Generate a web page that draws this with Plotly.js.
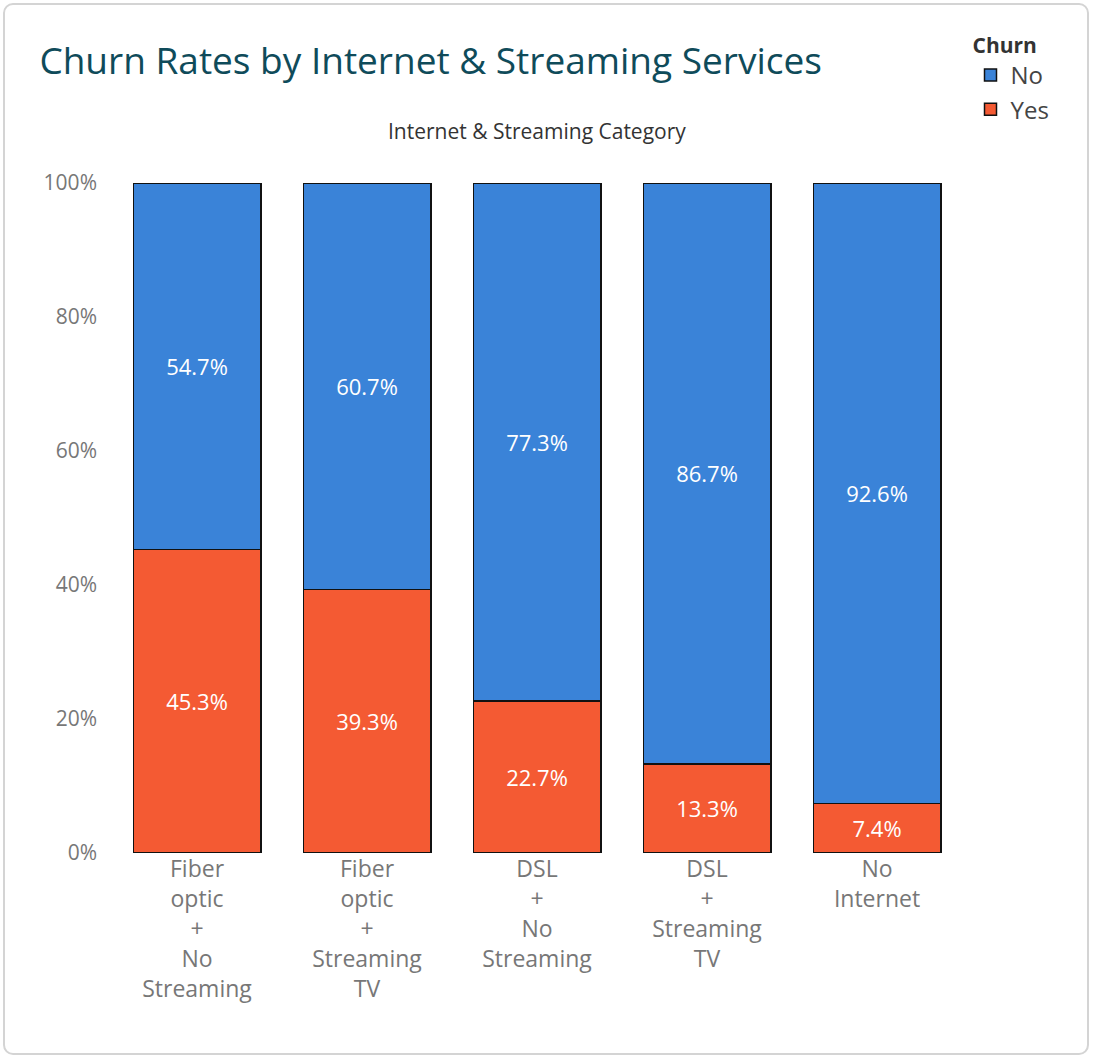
<!DOCTYPE html>
<html>
<head>
<script src="https://cdn.plot.ly/plotly-3.0.1.min.js"></script>
<style>
body{margin:0;background:#fff;}
#frame{position:absolute;left:3px;top:3px;width:1086px;height:1052px;border:2px solid #d4d4d4;border-radius:10px;box-sizing:border-box;overflow:hidden;}
#chart{position:absolute;left:-5px;top:-5px;width:1094px;height:1060px;}
</style>
</head>
<body>
<div id="frame"><div id="chart"></div></div>
<script>
var categories = ['Fiber<br>optic<br>+<br>No<br>Streaming', 'Fiber<br>optic<br>+<br>Streaming<br>TV', 'DSL<br>+<br>No<br>Streaming', 'DSL<br>+<br>Streaming<br>TV', 'No<br>Internet'];
var churnYes = [45.3, 39.3, 22.7, 13.3, 7.4];
var churnNo = [54.7, 60.7, 77.3, 86.7, 92.6];
var yTicks = [0, 20, 40, 60, 80, 100];

function lbl(v){ return v.map(function(x){ return x.toFixed(1) + '%'; }); }

var base = {
  type: 'bar', x: categories, width: 0.75,
  textposition: 'inside', insidetextanchor: 'middle',
  textfont: {color: '#fff', size: 22, family: 'Open Sans'},
  hoverinfo: 'skip'
};
var tYes = Object.assign({}, base, {name: 'Yes', y: churnYes, text: lbl(churnYes),
  marker: {color: '#f45a33', line: {color: '#111', width: 1.5}}});
var tNo = Object.assign({}, base, {name: 'No', y: churnNo, text: lbl(churnNo),
  marker: {color: '#3a83d8', line: {color: '#111', width: 1.5}}});

var layout = {
  width: 1094, height: 1060,
  barmode: 'stack',
  margin: {l: 112, r: 132, t: 183, b: 207},
  paper_bgcolor: 'rgba(0,0,0,0)', plot_bgcolor: 'rgba(0,0,0,0)',
  font: {family: 'Open Sans', color: '#777'},
  title: {text: 'Churn Rates by Internet & Streaming Services', x: 0.036, xanchor: 'left', y: 0.942, yanchor: 'middle',
    font: {size: 37, color: '#0f4b5a', family: 'Open Sans'}},
  xaxis: {range: [-0.5, 4.5], showgrid: false, zeroline: false, showline: false, ticks: '',
    tickfont: {size: 23, color: '#777'}, fixedrange: true},
  yaxis: {range: [0, 100], tickvals: yTicks, ticktext: yTicks.map(function(v){return v + '%';}),
    showgrid: false, zeroline: false, showline: false, ticks: '', ticklabelstandoff: 14,
    tickfont: {size: 21, color: '#777'}},
  showlegend: true,
  legend: {x: 1.01, xanchor: 'left', y: 1.235, yanchor: 'top', traceorder: 'reversed',
    title: {text: '<b>Churn</b>', font: {size: 21, color: '#333'}},
    font: {size: 24, color: '#444'}, itemwidth: 30},
  annotations: [{text: 'Internet & Streaming Category', xref: 'paper', yref: 'paper', x: 0.5, y: 1.102,
    showarrow: false, font: {size: 21, color: '#333'}}]
};
Plotly.newPlot('chart', [tYes, tNo], layout, {displayModeBar: false});
</script>
</body>
</html>
